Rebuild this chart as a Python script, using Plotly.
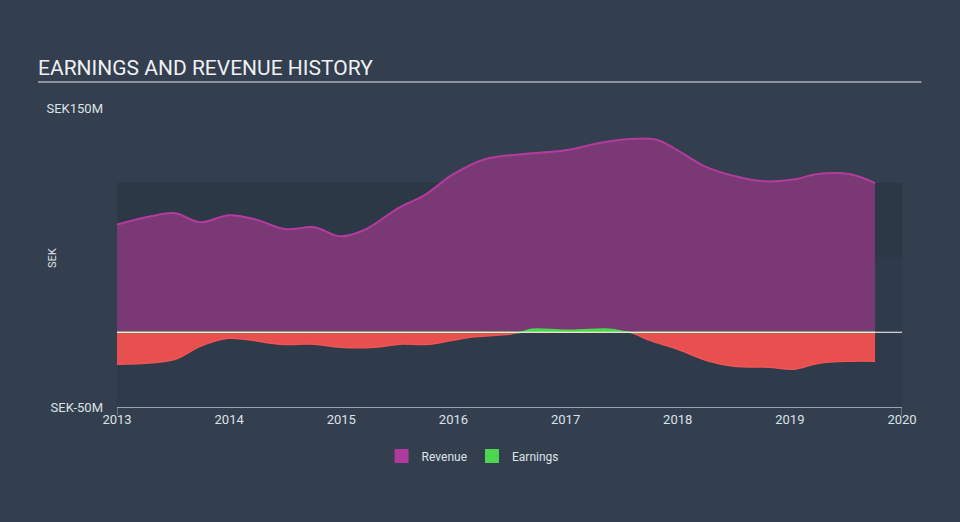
import plotly.graph_objects as go

# Data (SEK millions)
rev_x = [2013.0, 2013.3, 2013.52, 2013.74, 2014.0, 2014.23, 2014.5, 2014.76, 2014.99,
         2015.2, 2015.52, 2015.74, 2016.0, 2016.28, 2016.6, 2017.0, 2017.39, 2017.8,
         2018.0, 2018.24, 2018.55, 2018.78, 2019.05, 2019.23, 2019.54, 2019.76]
revenue = [72, 77.6, 79.6, 73.6, 78.3, 75.6, 69, 70.2, 64.2,
           68.2, 83.6, 91.6, 105.7, 115.7, 119, 121.7, 127.8, 129,
           121.7, 111, 103.7, 101, 102.3, 105.7, 105.7, 99.7]

earn_x = [2013.0, 2013.52, 2013.74, 2014.0, 2014.45, 2014.76, 2014.99, 2015.3, 2015.52,
          2015.79, 2016.15, 2016.5, 2016.6, 2016.7, 2017.0, 2017.39, 2017.57, 2017.75,
          2018.0, 2018.28, 2018.5, 2018.81, 2019.04, 2019.26, 2019.54, 2019.76]
earnings = [-21.4, -18, -9.4, -4, -8, -8, -10, -10, -8,
            -8, -3.3, -1.3, 0, 2, 1.3, 2, 0, -5.4,
            -11.4, -19.4, -22.7, -23.4, -24.7, -20.7, -19.4, -19.4]

earn_neg = [min(v, 0) for v in earnings]
earn_pos = [max(v, 0) for v in earnings]

x_ticks = [2013, 2014, 2015, 2016, 2017, 2018, 2019, 2020]
y_ticks = [-50, 150]
y_tick_text = ["SEK-50M", "SEK150M"]

BG = "#333f4e"
fig = go.Figure()

fig.add_trace(go.Scatter(
    x=rev_x, y=revenue, name="Revenue", mode="lines", line_shape="spline",
    line=dict(color="#b53aa0", width=2), fill="tozeroy", fillcolor="#7a3975",
    showlegend=False,
))
fig.add_trace(go.Scatter(
    x=earn_x, y=earn_neg, name="Loss", mode="lines", line_shape="spline",
    line=dict(color="#ef5555", width=1.5), fill="tozeroy", fillcolor="#e84f4f",
    showlegend=False,
))
fig.add_trace(go.Scatter(
    x=earn_x, y=earn_pos, name="Earnings", mode="lines", line_shape="spline",
    line=dict(color="#4cd84a", width=1.5), fill="tozeroy", fillcolor="#4cd84a",
    showlegend=False,
))
# legend entries
fig.add_trace(go.Scatter(x=[None], y=[None], name="Revenue", mode="markers",
                         marker=dict(symbol="square", size=14, color="#b0399c")))
fig.add_trace(go.Scatter(x=[None], y=[None], name="Earnings", mode="markers",
                         marker=dict(symbol="square", size=14, color="#4fd64f")))

shapes = [
    dict(type="rect", xref="x", yref="y", x0=2013, x1=2020, y0=-50, y1=50,
         fillcolor="#2f3b4a", line_width=0, layer="below"),
    dict(type="rect", xref="x", yref="y", x0=2013, x1=2020, y0=50, y1=100,
         fillcolor="#2c3846", line_width=0, layer="below"),
    dict(type="line", xref="x", yref="y", x0=2013, x1=2020, y0=0, y1=0,
         line=dict(color="#ffffff", width=1), layer="above"),
    dict(type="line", xref="x", yref="paper", x0=2013, x1=2013, y0=0, y1=-0.027,
         line=dict(color="#9aa5b1", width=1)),
    dict(type="line", xref="x", yref="paper", x0=2020, x1=2020, y0=0, y1=-0.027,
         line=dict(color="#9aa5b1", width=1)),
    dict(type="line", xref="paper", yref="paper", x0=-0.1006, x1=1.0248, y0=1.087, y1=1.087,
         line=dict(color="#a9b1bb", width=1.5)),
]

fig.update_layout(
    width=960, height=522,
    paper_bgcolor=BG, plot_bgcolor=BG,
    margin=dict(l=117, r=58, t=108, b=115),
    font=dict(family="Roboto", color="#dde2e8", size=13),
    shapes=shapes,
    showlegend=True,
    legend=dict(orientation="h", x=0.453, xanchor="center", y=-0.164, yanchor="middle",
                font=dict(size=12, color="#dde2e8"), bgcolor="rgba(0,0,0,0)",
                traceorder="normal", itemwidth=30),
    annotations=[
        dict(text="EARNINGS AND REVENUE HISTORY", xref="paper", yref="paper",
             x=-0.1035, y=1.135, xanchor="left", yanchor="middle", showarrow=False,
             font=dict(size=21, color="#eef0f3")),
        dict(text="SEK", xref="paper", yref="paper", x=-0.0828, y=0.498,
             xanchor="center", yanchor="middle", showarrow=False, textangle=-90,
             font=dict(size=11, color="#dde2e8")),
    ],
    xaxis=dict(range=[2013, 2020], tickvals=x_ticks, showgrid=False, zeroline=False,
               showline=True, linecolor="#9aa5b1", linewidth=1, ticks="",
               tickfont=dict(size=13, color="#dde2e8")),
    yaxis=dict(range=[-50, 150], tickvals=y_ticks, ticktext=y_tick_text, showgrid=False,
               zeroline=False, showline=False, ticks="", ticklabelstandoff=13,
               tickfont=dict(size=13, color="#dde2e8")),
)

fig.write_html("out.html")
